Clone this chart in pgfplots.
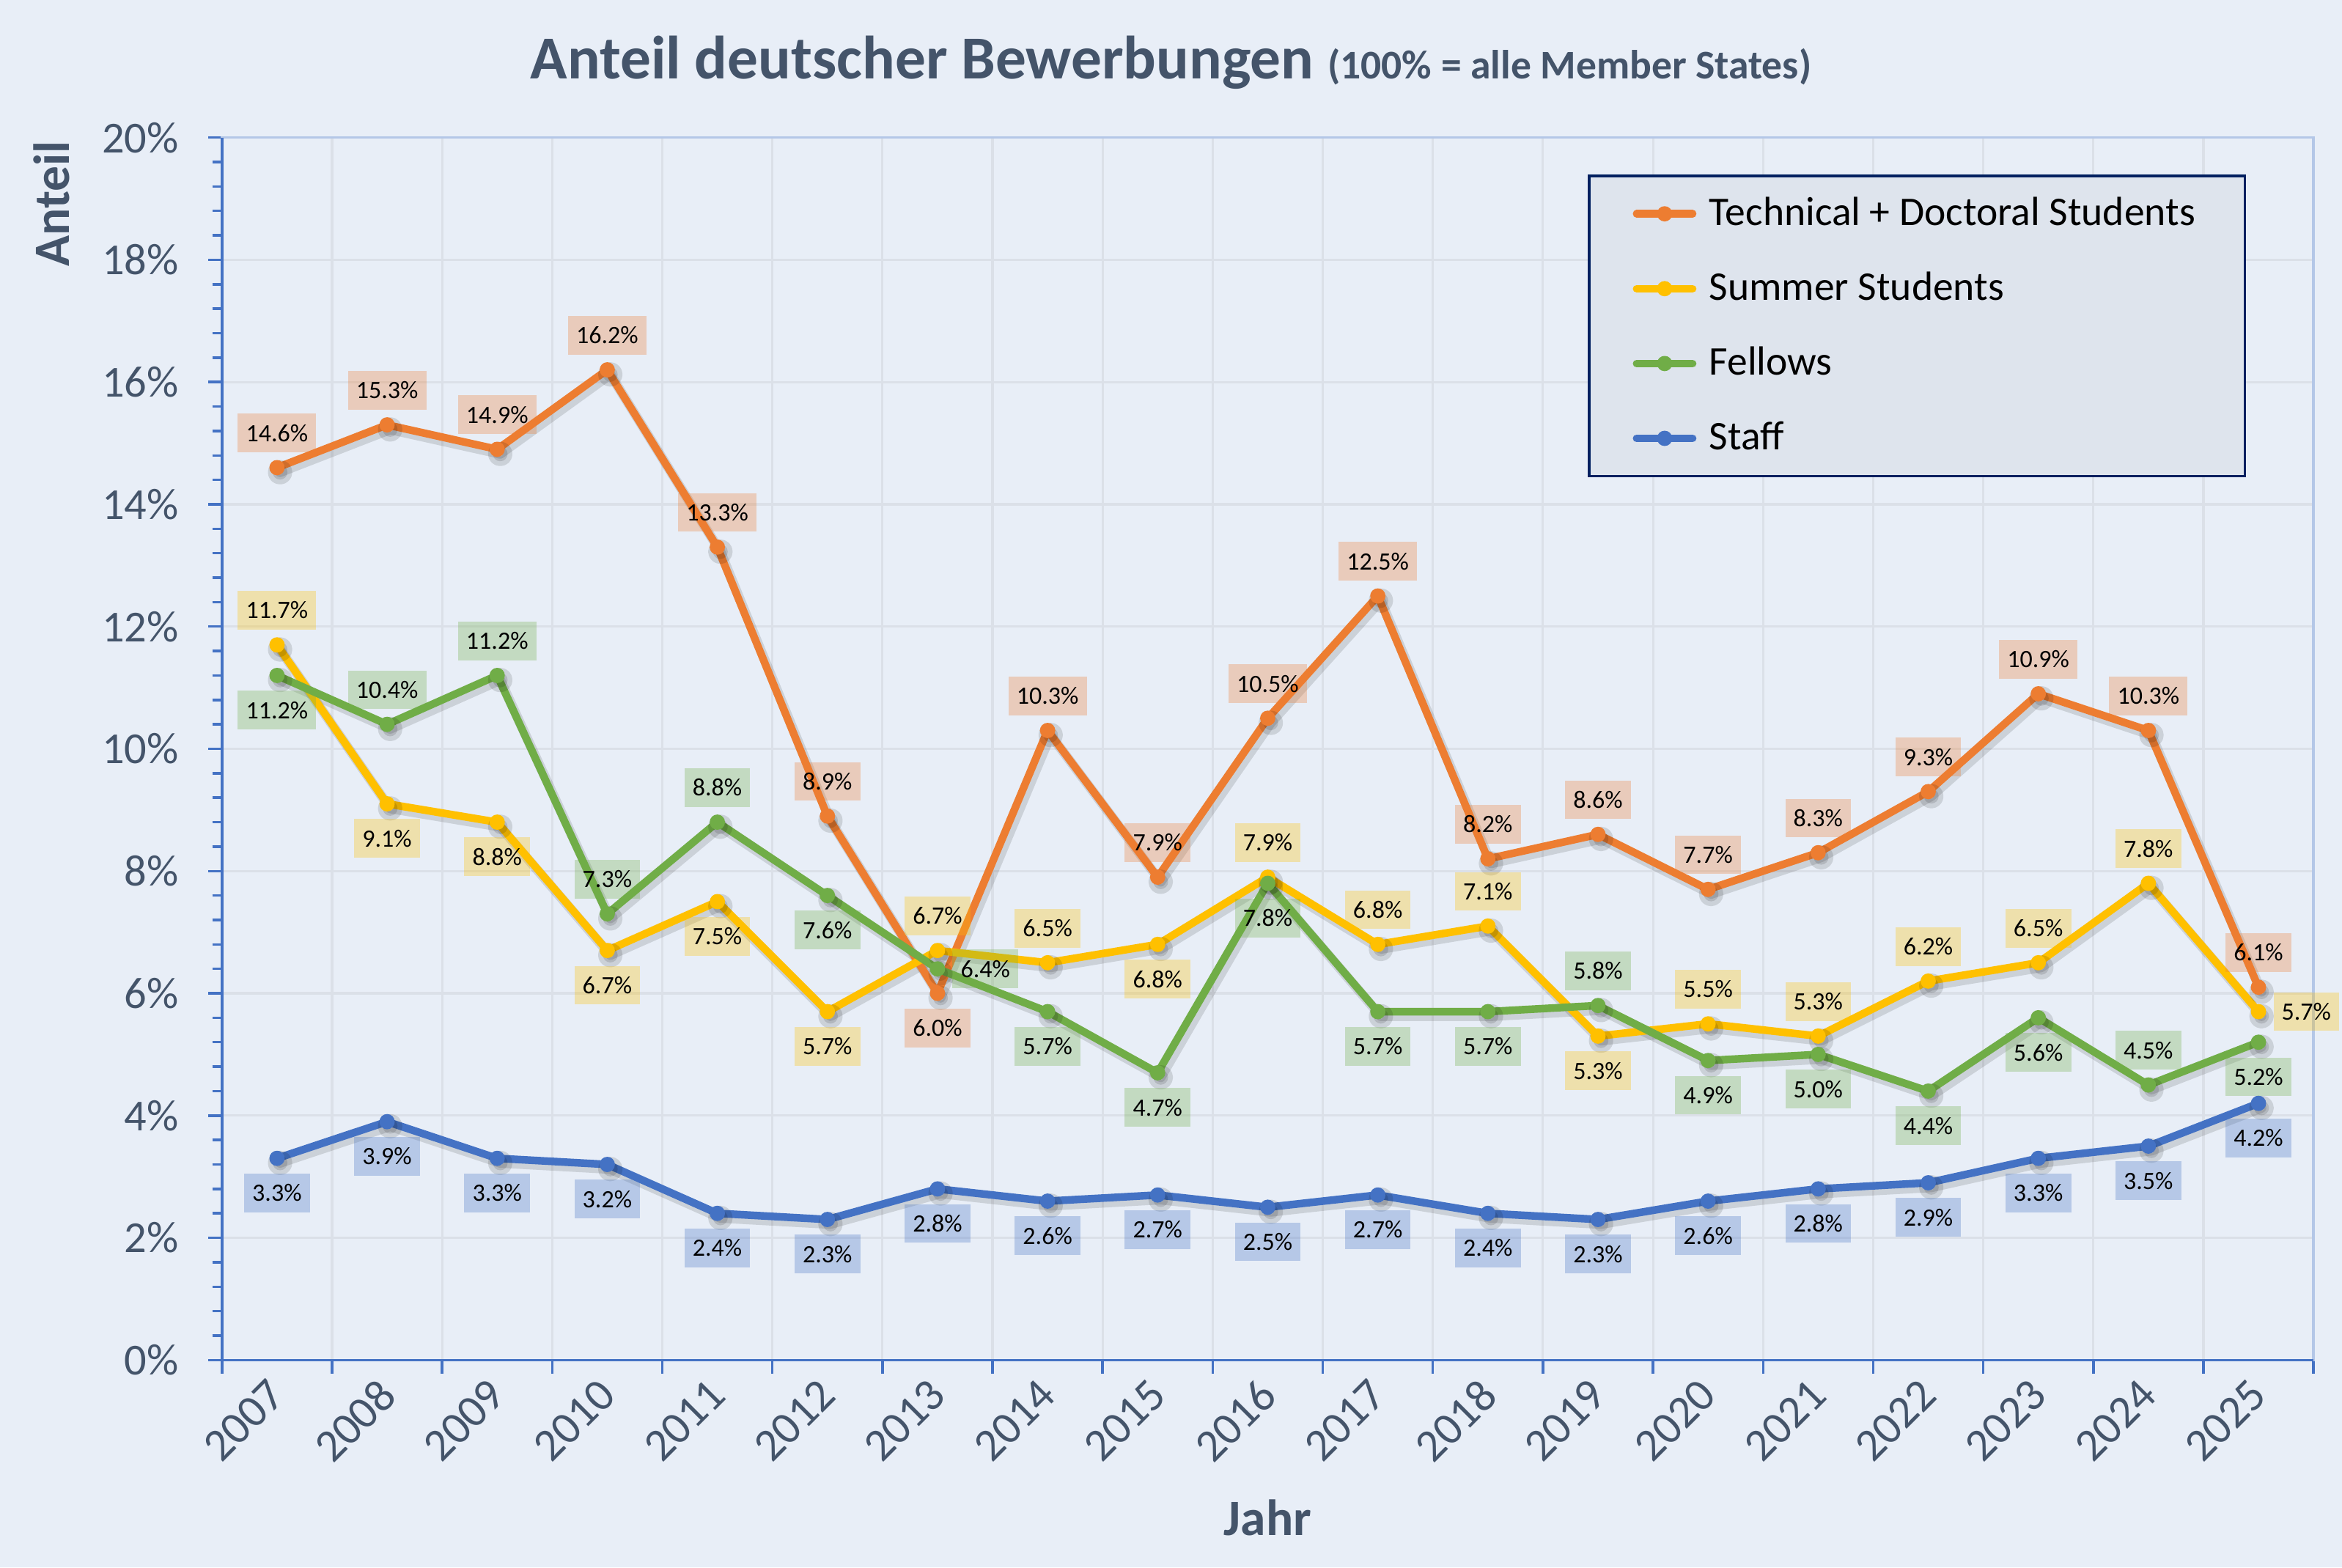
\documentclass[border=0pt]{standalone}
\usepackage{fontspec}
\setmainfont{Carlito}
\usepackage{pgfplots}
\usepackage{pgfplotstable}
\pgfplotsset{compat=1.18}

\definecolor{bg}{RGB}{232,238,247}
\definecolor{slate}{RGB}{68,84,106}
\definecolor{corange}{RGB}{237,125,49}
\definecolor{cyellow}{RGB}{255,192,0}
\definecolor{cgreen}{RGB}{112,173,71}
\definecolor{cblue}{RGB}{68,114,196}
\definecolor{gridc}{RGB}{219,224,232}
\definecolor{framec}{RGB}{180,199,231}
\definecolor{navy}{RGB}{0,32,96}
\definecolor{legfill}{RGB}{222,228,237}

% x y dx dy  (dx, dy: label offset in pt)
\pgfplotstableread{
x y dx dy
0 14.6 0 6.8
1 15.3 0 6.8
2 14.9 0 6.8
3 16.2 0 6.8
4 13.3 0 6.8
5 8.9 0 6.8
6 6.0 0 -6.8
7 10.3 0 6.8
8 7.9 0 6.8
9 10.5 0 6.8
10 12.5 0 6.8
11 8.2 0 6.8
12 8.6 0 6.8
13 7.7 0 6.8
14 8.3 0 6.8
15 9.3 0 6.8
16 10.9 0 6.8
17 10.3 0 6.8
18 6.1 0 6.8
}\tecdoc

\pgfplotstableread{
x y dx dy
0 11.7 0 6.8
1 9.1 0 -6.8
2 8.8 0 -6.8
3 6.7 0 -6.8
4 7.5 0 -6.8
5 5.7 0 -6.8
6 6.7 0 6.8
7 6.5 0 6.8
8 6.8 0 -6.8
9 7.9 0 6.8
10 6.8 0 6.8
11 7.1 0 6.8
12 5.3 0 -6.8
13 5.5 0 6.8
14 5.3 0 6.8
15 6.2 0 6.8
16 6.5 0 6.8
17 7.8 0 6.8
18 5.7 9.4 0
}\summer

\pgfplotstableread{
x y dx dy
0 11.2 0 -6.8
1 10.4 0 6.8
2 11.2 0 6.8
3 7.3 0 6.8
4 8.8 0 6.8
5 7.6 0 -6.8
6 6.4 9.4 0
7 5.7 0 -6.8
8 4.7 0 -6.8
9 7.8 0 -6.8
10 5.7 0 -6.8
11 5.7 0 -6.8
12 5.8 0 6.8
13 4.9 0 -6.8
14 5.0 0 -6.8
15 4.4 0 -6.8
16 5.6 0 -6.8
17 4.5 0 6.8
18 5.2 0 -6.8
}\fellows

\pgfplotstableread{
x y dx dy
0 3.3 0 -6.8
1 3.9 0 -6.8
2 3.3 0 -6.8
3 3.2 0 -6.8
4 2.4 0 -6.8
5 2.3 0 -6.8
6 2.8 0 -6.8
7 2.6 0 -6.8
8 2.7 0 -6.8
9 2.5 0 -6.8
10 2.7 0 -6.8
11 2.4 0 -6.8
12 2.3 0 -6.8
13 2.6 0 -6.8
14 2.8 0 -6.8
15 2.9 0 -6.8
16 3.3 0 -6.8
17 3.5 0 -6.8
18 4.2 0 -6.8
}\staff

\pgfplotsset{
  ser/.style={#1, line width=1.5pt, line join=round, line cap=round,
    mark=*, mark size=1.35pt, mark options={solid, fill=#1, draw=#1, line width=0.3pt}},
  shad/.style={black, opacity=0.12, line width=1.9pt, line join=round, line cap=round,
    mark=*, mark size=1.45pt, forget plot, xshift=0.6pt, yshift=-0.9pt},
  lbl/.style={draw=none, no markers, forget plot,
    point meta=y,
    visualization depends on={\thisrow{dx}\as\dx},
    visualization depends on={\thisrow{dy}\as\dy},
    nodes near coords={\pgfmathprintnumber[fixed,fixed zerofill,precision=1]{\pgfplotspointmeta}\%},
    every node near coord/.style={anchor=center, xshift=\dx pt, yshift=\dy pt,
      font=\fontsize{4.9}{5.5}\selectfont, fill=#1, fill opacity=0.3, text opacity=1,
      text=black, inner xsep=1.6pt, inner ysep=0pt, minimum height=7.6pt}},
}

\begin{document}
\begin{tikzpicture}
\path[use as bounding box, fill=bg] (0,0) rectangle (460pt,307.82pt);

\node[anchor=base, text=slate, inner sep=0pt] at (230pt,292.4pt)
  {\fontsize{12}{14}\selectfont\bfseries Anteil deutscher Bewerbungen {\fontsize{8}{10}\selectfont(100\% = alle Member States)}};

\begin{axis}[
  at={(43.6pt,40.7pt)}, anchor=south west,
  scale only axis, width=410.8pt, height=240.1pt,
  xmin=-0.5, xmax=18.5, ymin=0, ymax=20,
  clip=false,
  xtick={-0.5,0.5,...,18.5},
  xticklabels={2007,2008,2009,2010,2011,2012,2013,2014,2015,2016,2017,2018,2019,2020,2021,2022,2023,2024,2025},
  x tick label as interval,
  ytick={0,2,...,20},
  yticklabels={0\%,2\%,4\%,6\%,8\%,10\%,12\%,14\%,16\%,18\%,20\%},
  minor y tick num=4,
  tick align=outside, tick pos=left,
  major tick length=2.7pt, minor tick length=1.9pt,
  tick style={cblue, line width=0.5pt},
  grid=major,
  major grid style={gridc, line width=0.45pt},
  axis line style={framec, line width=0.5pt},
  /pgf/number format/assume math mode=true,
  tick label style={text=slate, font=\fontsize{8.7}{10}\selectfont},
  xticklabel style={xshift=-2.1pt, yshift=-0.3pt, rotate=45, anchor=north east, inner sep=0pt, font=\fontsize{9}{10}\selectfont},
  yticklabel style={xshift=-2.3pt},
  xlabel={Jahr},
  ylabel={Anteil},
  every axis x label/.style={at={(rel axis cs:0.5,-0.129)}, anchor=center,
     text=slate, font=\fontsize{10}{12}\selectfont\bfseries, inner sep=0pt},
  every axis y label/.style={at={(rel axis cs:-0.0813,0.998)}, rotate=90, anchor=east,
     text=slate, font=\fontsize{10}{12}\selectfont\bfseries, inner sep=0pt},
  legend cell align=left,
  legend image code/.code={\draw[mark repeat=2,mark phase=2] plot coordinates {(0pt,0pt) (5.5pt,0pt) (11pt,0pt)};},
  legend style={at={(rel axis cs:0.653,0.9697)}, anchor=north west,
     draw=navy, line width=0.5pt, fill=legfill,
     font=\fontsize{8}{10}\selectfont,
     inner xsep=8.6pt, inner ysep=3.7pt,
     nodes={inner sep=0pt}, column sep=2.5pt, row sep=7.2pt},
]
% shadows
\addplot[shad] table[x=x,y=y] {\tecdoc};
\addplot[shad] table[x=x,y=y] {\summer};
\addplot[shad] table[x=x,y=y] {\fellows};
\addplot[shad] table[x=x,y=y] {\staff};
% lines
\addplot[ser=corange] table[x=x,y=y] {\tecdoc};
\addlegendentry{\makebox[96.6pt][l]{\rule[-1.5pt]{0pt}{7.5pt}Technical + Doctoral Students}}
\addplot[ser=cyellow] table[x=x,y=y] {\summer};
\addlegendentry{\makebox[96.6pt][l]{\rule[-1.5pt]{0pt}{7.5pt}Summer Students}}
\addplot[ser=cgreen] table[x=x,y=y] {\fellows};
\addlegendentry{\makebox[96.6pt][l]{\rule[-1.5pt]{0pt}{7.5pt}Fellows}}
\addplot[ser=cblue] table[x=x,y=y] {\staff};
\addlegendentry{\makebox[96.6pt][l]{\rule[-1.5pt]{0pt}{7.5pt}Staff}}
% labels
\addplot[lbl=corange] table[x=x,y=y] {\tecdoc};
\addplot[lbl=cyellow] table[x=x,y=y] {\summer};
\addplot[lbl=cgreen] table[x=x,y=y] {\fellows};
\addplot[lbl=cblue] table[x=x,y=y] {\staff};
% strong left and bottom axis lines
\draw[cblue, line width=0.5pt] (rel axis cs:0,1) -- (rel axis cs:0,0) -- (rel axis cs:1,0);
\end{axis}
\end{tikzpicture}
\end{document}
